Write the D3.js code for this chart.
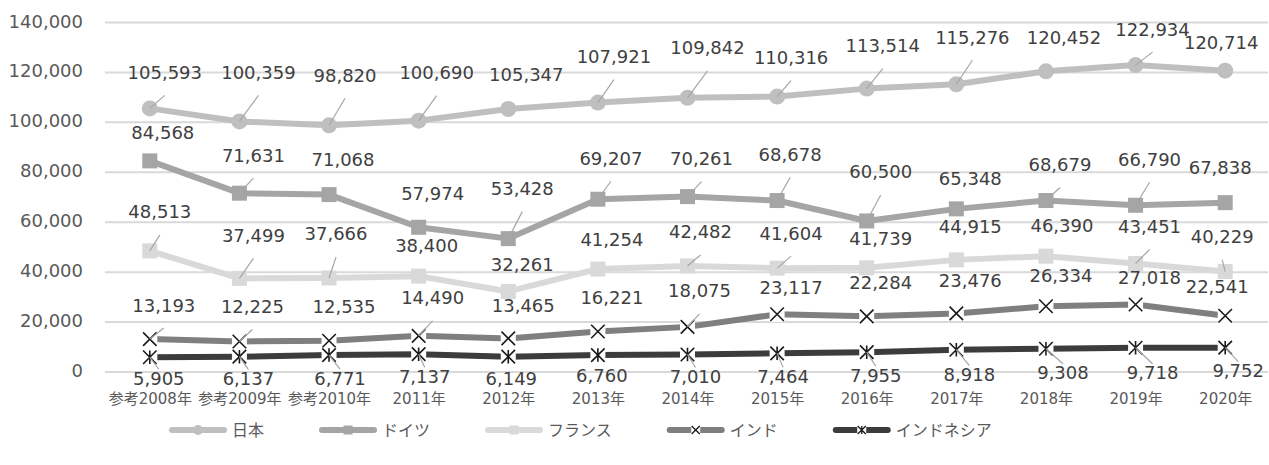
<!DOCTYPE html>
<html>
<head>
<meta charset="utf-8">
<script src="https://cdn.jsdelivr.net/npm/d3@7"></script>
<style>
  body { margin: 0; background: #fff; }
  svg { display: block; font-family: "DejaVu Sans", "Noto Sans CJK JP", sans-serif; }
</style>
</head>
<body>
<div id="chart"></div>
<script>
// categories
var years = ["参考2008年", "参考2009年", "参考2010年", "2011年", "2012年", "2013年",
  "2014年", "2015年", "2016年", "2017年", "2018年", "2019年", "2020年"];

// series values
var japan = [105593, 100359, 98820, 100690, 105347, 107921, 109842, 110316, 113514, 115276, 120452, 122934, 120714];
var germany = [84568, 71631, 71068, 57974, 53428, 69207, 70261, 68678, 60500, 65348, 68679, 66790, 67838];
var france = [48513, 37499, 37666, 38400, 32261, 41254, 42482, 41604, 41739, 44915, 46390, 43451, 40229];
var india = [13193, 12225, 12535, 14490, 13465, 16221, 18075, 23117, 22284, 23476, 26334, 27018, 22541];
var indonesia = [5905, 6137, 6771, 7137, 6149, 6760, 7010, 7464, 7955, 8918, 9308, 9718, 9752];

// tick labels
var yTicks = [0, 20000, 40000, 60000, 80000, 100000, 120000, 140000];

// data label placement (dx, dy from the point, leader line yes/no)
var japanLabels = [[15,-36,1],[19,-49,1],[16,-50,1],[18,-48,1],[18,-35,0],[16,-46,1],[20,-50,1],
  [14,-39,1],[16,-43,1],[16,-47,1],[18,-34,0],[17,-36,1],[-4,-28,0]];
var germanyLabels = [[13,-28,0],[14,-38,1],[14,-35,0],[14,-34,0],[14,-50,1],[13,-41,1],[14,-38,1],
  [13,-46,1],[14,-49,1],[14,-30,0],[14,-36,1],[14,-46,1],[-5,-35,0]];
var franceLabels = [[10,-39,1],[14,-43,1],[7,-44,1],[8,-31,0],[14,-27,0],[14,-30,0],[13,-34,1],
  [14,-35,1],[14,-29,0],[14,-33,0],[16,-31,0],[14,-37,1],[-3,-35,1]];
var indiaLabels = [[14,-34,1],[13,-35,1],[15,-34,0],[14,-38,1],[15,-33,0],[14,-34,0],[12,-36,1],
  [14,-27,0],[14,-34,0],[14,-33,0],[15,-31,0],[14,-27,0],[-8,-29,0]];
var indonesiaLabels = [[9,21,1],[9,22,1],[11,23,1],[6,22,1],[3,22,0],[4,20,0],[8,22,1],
  [6,23,1],[9,23,1],[13,25,1],[17,24,1],[17,25,1],[13,23,1]];

var series = [
  {name: "日本", values: japan, labels: japanLabels, color: "#bfbfbf", marker: "circle"},
  {name: "ドイツ", values: germany, labels: germanyLabels, color: "#a5a5a5", marker: "square"},
  {name: "フランス", values: france, labels: franceLabels, color: "#d9d9d9", marker: "square"},
  {name: "インド", values: india, labels: indiaLabels, color: "#7f7f7f", marker: "x"},
  {name: "インドネシア", values: indonesia, labels: indonesiaLabels, color: "#3c3c3c", marker: "star"}
];

var width = 1269, height = 465;
var plot = {left: 105, right: 1270, top: 22.5, bottom: 372};

var svg = d3.select("#chart").append("svg")
  .attr("width", width)
  .attr("height", height);

var x = d3.scalePoint()
  .domain(years)
  .range([plot.left, plot.right])
  .padding(0.5);

var y = d3.scaleLinear()
  .domain([0, 140000])
  .range([plot.bottom, plot.top]);

var fmt = d3.format(",");

// gridlines
svg.append("g")
  .selectAll("line")
  .data(yTicks)
  .enter().append("line")
  .attr("x1", plot.left)
  .attr("x2", 1268)
  .attr("y1", function(d) { return y(d); })
  .attr("y2", function(d) { return y(d); })
  .attr("stroke", "#d9d9d9")
  .attr("stroke-width", 2);

// y axis labels
var yAxis = d3.axisLeft(y).tickValues(yTicks).tickFormat(fmt).tickSize(0).tickPadding(0);
var yg = svg.append("g")
  .attr("transform", "translate(83,0)")
  .call(yAxis);
yg.select(".domain").remove();
yg.selectAll("text")
  .attr("dy", null)
  .attr("y", 4.5)
  .attr("x", 0)
  .attr("fill", "#595959")
  .style("font-size", "18px")
  .style("font-family", "'DejaVu Sans', sans-serif");

// x axis labels
var xAxis = d3.axisBottom(x).tickSize(0).tickPadding(0);
var xg = svg.append("g")
  .attr("transform", "translate(0," + plot.bottom + ")")
  .call(xAxis);
xg.select(".domain").remove();
xg.selectAll("text")
  .attr("dy", null)
  .attr("y", 31.5)
  .attr("fill", "#595959")
  .style("font-size", "15px")
  .style("font-family", "'DejaVu Sans', 'Noto Sans CJK JP', sans-serif");

function drawMarker(g, type, color, size, sw) {
  var h = size / 2;
  if (type === "circle") {
    g.append("circle").attr("r", h).attr("fill", color);
  } else if (type === "square") {
    g.append("rect").attr("x", -h).attr("y", -h).attr("width", size).attr("height", size)
      .attr("fill", color);
  } else {
    var k = h * 0.9;
    g.append("rect").attr("x", -h).attr("y", -h).attr("width", size).attr("height", size)
      .attr("fill", "#fff");
    var p = "M" + (-k) + "," + (-k) + "L" + k + "," + k + "M" + (-k) + "," + k + "L" + k + "," + (-k);
    if (type === "star") p += "M0," + (-k) + "L0," + k;
    g.append("path").attr("d", p).attr("stroke", "#1a1a1a").attr("stroke-width", sw)
      .attr("fill", "none");
  }
}

var line = d3.line()
  .x(function(d, i) { return x(years[i]); })
  .y(function(d) { return y(d); });

var markerSize = {circle: 16, square: 15, x: 15, star: 15};

series.forEach(function(s) {
  var g = svg.append("g").attr("class", "series");
  g.append("path")
    .datum(s.values)
    .attr("d", line)
    .attr("fill", "none")
    .attr("stroke", s.color)
    .attr("stroke-width", 6)
    .attr("stroke-linejoin", "round")
    .attr("stroke-linecap", "round");
  s.values.forEach(function(v, i) {
    var m = g.append("g")
      .attr("transform", "translate(" + x(years[i]) + "," + y(v) + ")");
    drawMarker(m, s.marker, s.color, markerSize[s.marker], 1.6);
  });
});

// data labels + leader lines
series.forEach(function(s) {
  var g = svg.append("g").attr("class", "labels");
  s.values.forEach(function(v, i) {
    var px = x(years[i]), py = y(v);
    var L = s.labels[i];
    var cx = px + L[0], cy = py + L[1];
    if (L[2]) {
      var ey = L[1] < 0 ? cy + 23 : cy - 9;
      g.append("line")
        .attr("x1", px).attr("y1", py)
        .attr("x2", cx).attr("y2", ey)
        .attr("stroke", "#a6a6a6")
        .attr("stroke-width", 1.2);
    }
    g.append("text")
      .attr("x", cx)
      .attr("y", cy + 6.5)
      .attr("text-anchor", "middle")
      .attr("fill", "#404040")
      .style("font-size", "18px")
      .text(fmt(v));
  });
});

// legend
var legend = svg.append("g").attr("transform", "translate(0,430)");
var lx = 172;
series.forEach(function(s) {
  var item = legend.append("g").attr("transform", "translate(" + lx + ",0)");
  item.append("line")
    .attr("x1", 0).attr("x2", 52)
    .attr("stroke", s.color)
    .attr("stroke-width", 6)
    .attr("stroke-linecap", "round");
  var m = item.append("g").attr("transform", "translate(26,0)");
  drawMarker(m, s.marker, s.color, s.marker === "circle" ? 10 : 9, 1.3);
  var t = item.append("text")
    .attr("x", 60)
    .attr("y", 5.5)
    .attr("fill", "#595959")
    .style("font-size", "16px")
    .text(s.name);
  lx += 60 + t.node().getComputedTextLength() + 58;
});
</script>
</body>
</html>
